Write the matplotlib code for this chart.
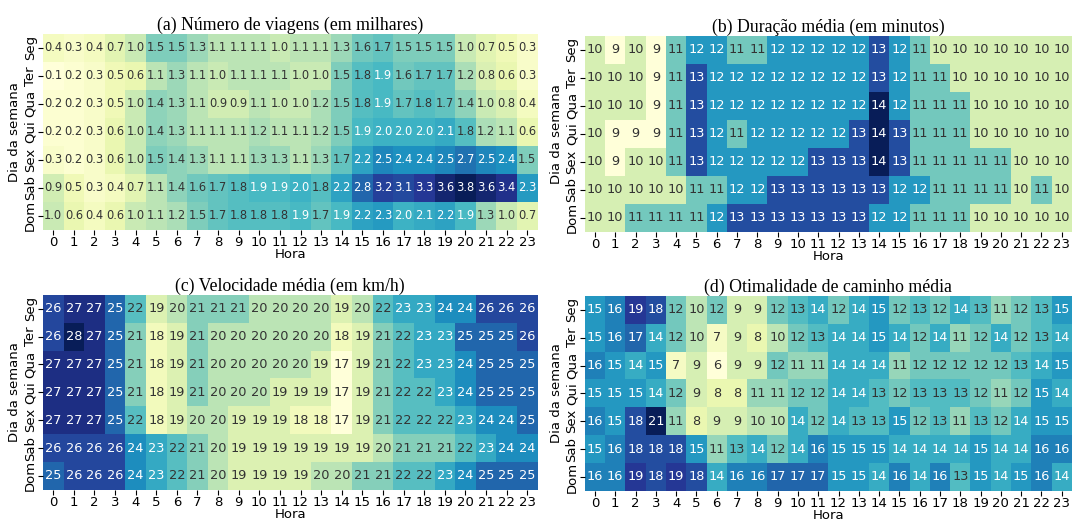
import numpy as np
import matplotlib
matplotlib.use('Agg')
import matplotlib.pyplot as plt
import seaborn as sns

dias = ['Seg', 'Ter', 'Qua', 'Qui', 'Sex', 'Sab', 'Dom']
horas = list(range(24))

# (a) number of trips, thousands
viagens = [
    [0.4, 0.3, 0.4, 0.7, 1.0, 1.5, 1.5, 1.3, 1.1, 1.1, 1.1, 1.0, 1.1, 1.1, 1.3, 1.6, 1.7, 1.5, 1.5, 1.5, 1.0, 0.7, 0.5, 0.3],
    [0.1, 0.2, 0.3, 0.5, 0.6, 1.1, 1.3, 1.1, 1.0, 1.1, 1.1, 1.1, 1.0, 1.0, 1.5, 1.8, 1.9, 1.6, 1.7, 1.7, 1.2, 0.8, 0.6, 0.3],
    [0.2, 0.2, 0.3, 0.5, 1.0, 1.4, 1.3, 1.1, 0.9, 0.9, 1.1, 1.0, 1.0, 1.2, 1.5, 1.8, 1.9, 1.7, 1.8, 1.7, 1.4, 1.0, 0.8, 0.4],
    [0.2, 0.2, 0.3, 0.6, 1.0, 1.4, 1.3, 1.1, 1.1, 1.1, 1.2, 1.1, 1.1, 1.2, 1.5, 1.9, 2.0, 2.0, 2.0, 2.1, 1.8, 1.2, 1.1, 0.6],
    [0.3, 0.2, 0.3, 0.6, 1.0, 1.5, 1.4, 1.3, 1.1, 1.1, 1.3, 1.3, 1.1, 1.3, 1.7, 2.2, 2.5, 2.4, 2.4, 2.5, 2.7, 2.5, 2.4, 1.5],
    [0.9, 0.5, 0.3, 0.4, 0.7, 1.1, 1.4, 1.6, 1.7, 1.8, 1.9, 1.9, 2.0, 1.8, 2.2, 2.8, 3.2, 3.1, 3.3, 3.6, 3.8, 3.6, 3.4, 2.3],
    [1.0, 0.6, 0.4, 0.6, 1.0, 1.1, 1.2, 1.5, 1.7, 1.8, 1.8, 1.8, 1.9, 1.7, 1.9, 2.2, 2.3, 2.0, 2.1, 2.2, 1.9, 1.3, 1.0, 0.7],
]

# (b) mean duration, minutes
duracao = [
    [10, 9, 10, 9, 11, 12, 12, 11, 11, 12, 12, 12, 12, 12, 13, 12, 11, 10, 10, 10, 10, 10, 10, 10],
    [10, 10, 10, 9, 11, 13, 12, 12, 12, 12, 12, 12, 12, 12, 13, 12, 11, 11, 10, 10, 10, 10, 10, 10],
    [10, 10, 10, 9, 11, 13, 12, 12, 12, 12, 12, 12, 12, 12, 14, 12, 11, 11, 11, 10, 10, 10, 10, 10],
    [10, 9, 9, 9, 11, 13, 12, 11, 12, 12, 12, 12, 12, 13, 14, 13, 11, 11, 11, 10, 10, 10, 10, 10],
    [10, 9, 10, 10, 11, 13, 12, 12, 12, 12, 12, 13, 13, 13, 14, 13, 11, 11, 11, 11, 11, 10, 10, 10],
    [10, 10, 10, 10, 10, 11, 11, 12, 12, 13, 13, 13, 13, 13, 13, 12, 12, 11, 11, 11, 11, 10, 11, 10],
    [10, 10, 11, 11, 11, 11, 12, 13, 13, 13, 13, 13, 13, 13, 12, 12, 11, 11, 11, 10, 10, 10, 10, 10],
]

# (c) mean speed, km/h
velocidade = [
    [26, 27, 27, 25, 22, 19, 20, 21, 21, 21, 20, 20, 20, 20, 19, 20, 22, 23, 23, 24, 24, 26, 26, 26],
    [26, 28, 27, 25, 21, 18, 19, 21, 20, 20, 20, 20, 20, 20, 18, 19, 21, 22, 23, 23, 25, 25, 25, 26],
    [27, 27, 27, 25, 21, 18, 19, 21, 20, 20, 20, 20, 20, 19, 17, 19, 21, 22, 23, 23, 24, 25, 25, 25],
    [27, 27, 27, 25, 21, 18, 19, 21, 20, 20, 20, 19, 19, 19, 17, 19, 21, 22, 22, 23, 24, 25, 25, 25],
    [27, 27, 27, 25, 22, 18, 19, 20, 20, 19, 19, 19, 18, 18, 17, 19, 21, 22, 22, 22, 23, 24, 24, 25],
    [26, 26, 26, 26, 24, 23, 22, 21, 20, 19, 19, 19, 19, 19, 19, 19, 20, 21, 21, 21, 22, 23, 24, 24],
    [25, 26, 26, 26, 24, 23, 22, 21, 20, 19, 19, 19, 19, 20, 20, 21, 21, 22, 22, 23, 24, 25, 25, 25],
]

# (d) mean path optimality
otimalidade = [
    [15, 16, 19, 18, 12, 10, 12, 9, 9, 12, 13, 14, 12, 14, 15, 12, 13, 12, 14, 13, 11, 12, 13, 15],
    [15, 16, 17, 14, 12, 10, 7, 9, 8, 10, 12, 13, 14, 14, 15, 14, 12, 14, 11, 12, 14, 12, 13, 14],
    [16, 15, 14, 15, 7, 9, 6, 9, 9, 12, 11, 11, 14, 14, 14, 11, 12, 12, 12, 12, 12, 13, 14, 15],
    [15, 15, 15, 14, 12, 9, 8, 8, 11, 11, 12, 12, 14, 14, 13, 12, 13, 13, 13, 12, 11, 12, 15, 14],
    [16, 15, 18, 21, 11, 8, 9, 9, 10, 10, 14, 12, 14, 13, 13, 15, 12, 13, 11, 13, 12, 14, 15, 15],
    [15, 16, 18, 18, 18, 15, 11, 13, 14, 12, 14, 16, 15, 15, 15, 14, 14, 14, 14, 15, 14, 14, 16, 16],
    [16, 16, 19, 18, 19, 18, 14, 16, 16, 17, 17, 17, 15, 15, 14, 16, 14, 16, 13, 15, 14, 15, 16, 14],
]

paineis = [
    (viagens, '{:.1f}', '(a) Número de viagens (em milhares)', [0.040, 0.558, 0.461, 0.377]),
    (duracao, '{:.0f}', '(b) Duração média (em minutos)', [0.545, 0.554, 0.454, 0.377]),
    (velocidade, '{:.0f}', '(c) Velocidade média (em km/h)', [0.040, 0.058, 0.461, 0.375]),
    (otimalidade, '{:.0f}', '(d) Otimalidade de caminho média', [0.545, 0.056, 0.454, 0.375]),
]


def luminancia(rgba):
    # relative luminance (sRGB), same rule seaborn uses for annotations
    c = np.array(rgba[:3])
    c = np.where(c <= 0.03928, c / 12.92, ((c + 0.055) / 1.055) ** 2.4)
    return c.dot([0.2126, 0.7152, 0.0722])


fig = plt.figure(figsize=(10.73, 5.2), dpi=100)
cmap = plt.get_cmap('YlGnBu')

for valores, fmt, titulo, pos in paineis:
    ax = fig.add_axes(pos)
    arr = np.array(valores, dtype=float)
    sns.heatmap(arr, ax=ax, cmap=cmap, cbar=False, annot=False,
                xticklabels=horas, yticklabels=dias)
    vmin, vmax = arr.min(), arr.max()
    tam = 8.3 if fmt == '{:.1f}' else 9.3
    for i in range(arr.shape[0]):
        for j in range(arr.shape[1]):
            lum = luminancia(cmap((arr[i, j] - vmin) / (vmax - vmin)))
            cor = 'white' if lum < 0.408 else '#333333'
            ax.text(j + 0.5, i + 0.5, fmt.format(arr[i, j]), ha='center',
                    va='center', fontsize=tam, color=cor)
    ax.set_title(titulo, fontfamily='Liberation Serif', fontsize=12.8, pad=2)
    ax.set_xlabel('Hora', fontsize=9.5, labelpad=-1)
    ax.set_ylabel('Dia da semana', fontsize=9.5, labelpad=2)
    ax.tick_params(axis='x', labelsize=9.5, rotation=0, pad=1)
    ax.tick_params(axis='y', labelsize=9.5, rotation=90, pad=1)
    for lab in ax.get_yticklabels():
        lab.set_va('center')

fig.savefig('out.png', dpi=100)
